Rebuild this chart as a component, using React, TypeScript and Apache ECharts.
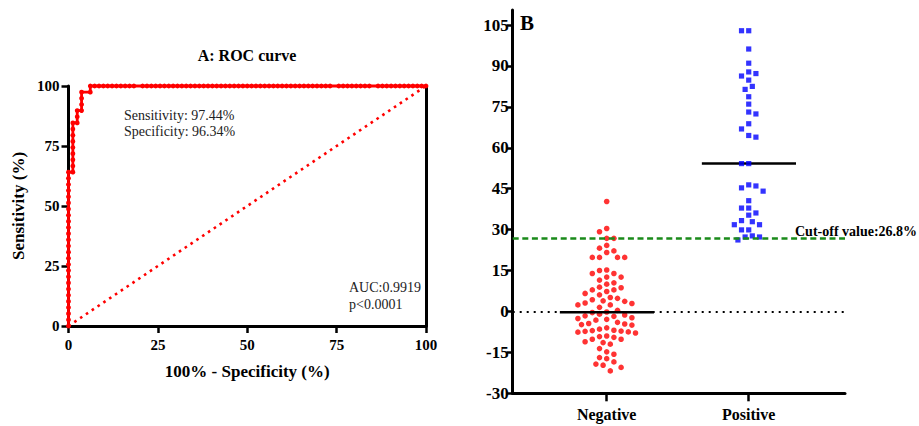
import React, { useEffect, useRef } from "react";
import * as echarts from "echarts";

// ---------- Panel A: ROC curve (counts of false positives out of 82 negatives, true positives out of 39 positives)
const NEG_TOTAL = 82;
const POS_TOTAL = 39;
const rocFP = [
  0, 0, 0, 0, 0, 0, 0, 0, 0, 0, 0, 0, 0, 0, 0, 0, 0, 0, 0, 0, 0, 0, 0, 0, 0, 0,
  1, 1, 1, 1, 1, 1, 1, 1, 1,
  2, 2, 2,
  3, 3, 3, 3,
  5, 5,
  6, 7, 8, 9, 10, 11, 12, 13, 14, 15,
  17, 18, 19, 20, 21, 22, 23, 24, 25, 26, 27, 28, 29, 30, 31, 32, 33, 34, 35, 36, 37, 38,
  39, 40, 41, 42, 43, 44, 45, 46, 47, 48, 49, 50, 51, 52, 53, 54, 55, 56, 57, 58, 59, 60,
  62, 63, 64, 65, 66, 67, 68, 69,
  71, 72, 73, 74, 75, 76, 77, 78, 79, 80, 81, 82,
];
const rocTP = [
  0, 1, 2, 3, 4, 5, 6, 7, 8, 9, 10, 11, 12, 13, 14, 15, 16, 17, 18, 19, 20, 21, 22, 23, 24, 25,
  25, 26, 27, 28, 29, 30, 31, 32, 33,
  33, 34, 35,
  35, 36, 37, 38,
  38, 39,
  39, 39, 39, 39, 39, 39, 39, 39, 39, 39,
  39, 39, 39, 39, 39, 39, 39, 39, 39, 39, 39, 39, 39, 39, 39, 39, 39, 39, 39, 39, 39, 39,
  39, 39, 39, 39, 39, 39, 39, 39, 39, 39, 39, 39, 39, 39, 39, 39, 39, 39, 39, 39, 39, 39,
  39, 39, 39, 39, 39, 39, 39, 39,
  39, 39, 39, 39, 39, 39, 39, 39, 39, 39, 39, 39,
];
const rocTicks = [0, 25, 50, 75, 100];

// ---------- Panel B: scatter dot plot
const categories = ["Negative", "Positive"];
const negativeValues = [
  40.3, 30.4, 29.2, 26.8, 26.8, 24.2, 23.2, 22.2, 21.6, 19.8, 19.8, 19.8, 19.8,
  15.0, 15.2, 13.9, 13.9, 12.6, 12.6, 11.5, 10.0, 10.5, 8.7, 8.9, 7.9, 7.9, 7.3,
  6.1, 6.6, 5.1, 4.3, 4.8, 3.7, 3.9, 2.9, 3.1, 2.4, 2.4,
  1.5, 0.4, -0.2, -0.4,
  -1.0, -1.3, -1.6, -1.8, -2.3, -2.6, -2.9, -3.2,
  -4.0, -4.4, -4.6, -5.0, -4.8,
  -6.0, -6.5, -6.9, -7.2, -7.5, -7.0, -7.9, -7.6, -7.3,
  -9.0, -9.2, -9.5, -10.2, -10.2, -11.1, -11.4, -12.0,
  -13.6, -14.8, -15.7, -16.9, -17.3, -18.5, -19.3, -19.7, -20.5, -21.8,
];
const positiveValues = [
  102.9, 102.9, 96.2, 91.0, 87.2, 86.3, 87.8, 84.8, 82.5, 81.4, 78.7, 76.0,
  73.1, 72.4, 68.8, 66.9, 64.5, 63.9,
  54.2, 54.2,
  46.4, 45.3, 44.1, 46.0, 40.6, 37.9, 37.9, 35.3, 36.1, 31.8, 32.9, 33.3, 31.8,
  29.9, 29.9, 27.3, 26.2, 27.3, 27.7,
];
const cutOff = 26.8;
const bTicks = [-30, -15, 0, 15, 30, 45, 60, 75, 90, 105];

// ---------- layout constants
const W = 919;
const H = 426;
const FONT = "'Liberation Serif', 'Times New Roman', serif";
const B_LEFT = 512.7;
const B_RIGHT = 845;
const B_TOP = 10;
const B_BOTTOM = 393.3;
const B_YMIN = -30;
const B_YMAX = 110.5;
const B_XMIN = -0.662;
const B_XMAX = 1.678;

function median(v: number[]): number {
  const s = [...v].sort((a, b) => a - b);
  const n = s.length;
  return n % 2 ? s[(n - 1) / 2] : (s[n / 2 - 1] + s[n / 2]) / 2;
}

// beeswarm layout: returns horizontal offsets in pixels
function swarm(values: number[], pxPerUnit: number, step: number, minDist: number): number[] {
  const order = values.map((_, i) => i).sort((a, b) => values[b] - values[a]);
  const placed: { x: number; y: number }[] = [];
  const out = new Array(values.length).fill(0);
  let flip = false;
  for (const i of order) {
    const y = values[i] * pxPerUnit;
    for (let k = 0; k < 200; k++) {
      const cands = k === 0 ? [0] : flip ? [k * step, -k * step] : [-k * step, k * step];
      let found: number | null = null;
      for (const c of cands) {
        if (placed.every((p) => Math.hypot(p.x - c, p.y - y) >= minDist)) {
          found = c;
          break;
        }
      }
      if (found !== null) {
        out[i] = found;
        placed.push({ x: found, y });
        if (found !== 0) flip = !flip;
        break;
      }
    }
  }
  return out;
}

export default function App() {
  const ref = useRef<HTMLDivElement>(null);
  useEffect(() => {
    if (!ref.current) return;
    const chart = echarts.init(ref.current, undefined, { renderer: "svg" });

    const rocData = rocFP.map((fp, i) => [(fp / NEG_TOTAL) * 100, (rocTP[i] / POS_TOTAL) * 100]);

    const yPx = (B_BOTTOM - B_TOP) / (B_YMAX - B_YMIN);
    const xPx = (B_RIGHT - B_LEFT) / (B_XMAX - B_XMIN);
    const negOff = swarm(negativeValues, yPx, 3.6, 6.8);
    const posOff = swarm(positiveValues, yPx, 3.6, 6.8);
    const negData = negativeValues.map((v, i) => [0 + negOff[i] / xPx, v]);
    const posData = positiveValues.map((v, i) => [1 + posOff[i] / xPx, v]);
    const negMed = median(negativeValues);
    const posMed = median(positiveValues);

    const boldLabel = (size: number) => ({
      color: "#000",
      fontFamily: FONT,
      fontWeight: "bold" as const,
      fontSize: size,
    });

    chart.setOption({
      animation: false,
      grid: [
        { left: 68.5, right: W - 426, top: 86, bottom: H - 326 },
        { left: B_LEFT, right: W - B_RIGHT, top: B_TOP, bottom: H - B_BOTTOM },
      ],
      xAxis: [
        {
          gridIndex: 0,
          type: "value",
          min: 0,
          max: 100,
          interval: 25,
          name: "100% - Specificity (%)",
          nameLocation: "middle",
          nameGap: 37,
          nameTextStyle: boldLabel(17),
          axisLine: { show: true, onZero: false, lineStyle: { color: "#000", width: 3 } },
          axisTick: { show: true, length: 7, lineStyle: { color: "#000", width: 2.5 } },
          axisLabel: { ...boldLabel(15), margin: 11, customValues: rocTicks },
          splitLine: { show: false },
        },
        {
          gridIndex: 1,
          type: "value",
          min: B_XMIN,
          max: B_XMAX,
          axisLine: { show: true, onZero: false, lineStyle: { color: "#000", width: 3 } },
          axisTick: { show: true, length: 8, customValues: [0, 1], lineStyle: { color: "#000", width: 2.5 } },
          axisLabel: {
            ...boldLabel(16),
            margin: 13,
            customValues: [0, 1],
            formatter: (v: number) => categories[Math.round(v)] ?? "",
          },
          splitLine: { show: false },
        },
      ],
      yAxis: [
        {
          gridIndex: 0,
          type: "value",
          min: 0,
          max: 100,
          interval: 25,
          name: "Sensitivity (%)",
          nameLocation: "middle",
          nameGap: 42,
          nameTextStyle: boldLabel(17),
          axisLine: { show: true, onZero: false, lineStyle: { color: "#000", width: 3 } },
          axisTick: { show: true, length: 7, lineStyle: { color: "#000", width: 2.5 } },
          axisLabel: { ...boldLabel(15), margin: 9, customValues: rocTicks },
          splitLine: { show: false },
        },
        {
          gridIndex: 0,
          type: "value",
          position: "right",
          min: 0,
          max: 100,
          axisLine: { show: true, onZero: false, lineStyle: { color: "#000", width: 3 } },
          axisTick: { show: false },
          axisLabel: { show: false },
          splitLine: { show: false },
        },
        {
          gridIndex: 1,
          type: "value",
          min: B_YMIN,
          max: B_YMAX,
          axisLine: { show: true, onZero: false, lineStyle: { color: "#000", width: 3 } },
          axisTick: { show: true, length: 6, customValues: bTicks, lineStyle: { color: "#000", width: 2.5 } },
          axisLabel: { ...boldLabel(17), margin: 4, customValues: bTicks },
          splitLine: { show: false },
        },
      ],
      series: [
        {
          type: "line",
          xAxisIndex: 0,
          yAxisIndex: 0,
          data: [
            [0, 0],
            [100, 100],
          ],
          symbol: "none",
          lineStyle: { color: "#ff0000", width: 2.6, type: [2.6, 4.4] },
          silent: true,
          z: 2,
        },
        {
          type: "line",
          xAxisIndex: 0,
          yAxisIndex: 0,
          data: rocData,
          symbol: "circle",
          symbolSize: 4.8,
          clip: false,
          lineStyle: { color: "#ff0000", width: 2.8 },
          itemStyle: { color: "#ff0000" },
          z: 3,
        },
        {
          type: "scatter",
          xAxisIndex: 1,
          yAxisIndex: 2,
          data: negData,
          symbol: "circle",
          symbolSize: 5.6,
          itemStyle: { color: "#ff0000" },
          z: 3,
          markLine: {
            silent: true,
            symbol: "none",
            label: { show: false },
            data: [
              { yAxis: 0, lineStyle: { color: "#000", width: 2, type: [2, 5] } },
              { yAxis: cutOff, lineStyle: { color: "#1a8a1a", width: 2.5, type: [6, 3.6] } },
            ],
          },
        },
        {
          type: "scatter",
          xAxisIndex: 1,
          yAxisIndex: 2,
          data: posData,
          symbol: "rect",
          symbolSize: 5.2,
          itemStyle: { color: "#0000ff" },
          z: 3,
        },
        {
          type: "line",
          xAxisIndex: 1,
          yAxisIndex: 2,
          data: [
            [-0.33, negMed],
            [0.333, negMed],
          ],
          symbol: "none",
          lineStyle: { color: "#000", width: 2.5 },
          z: 4,
        },
        {
          type: "line",
          xAxisIndex: 1,
          yAxisIndex: 2,
          data: [
            [1 - 0.33, posMed],
            [1.333, posMed],
          ],
          symbol: "none",
          lineStyle: { color: "#000", width: 2.5 },
          z: 2,
        },
      ],
      graphic: [
        {
          type: "text",
          x: 247,
          y: 55,
          style: { text: "A: ROC curve", ...boldLabel(16), fill: "#000", align: "center", verticalAlign: "middle" },
        },
        {
          type: "text",
          x: 124,
          y: 115,
          style: { text: "Sensitivity: 97.44%", font: `14px ${FONT}`, fill: "#222", verticalAlign: "middle" },
        },
        {
          type: "text",
          x: 124,
          y: 131,
          style: { text: "Specificity: 96.34%", font: `14px ${FONT}`, fill: "#222", verticalAlign: "middle" },
        },
        {
          type: "text",
          x: 349,
          y: 287,
          style: { text: "AUC:0.9919", font: `14px ${FONT}`, fill: "#222", verticalAlign: "middle" },
        },
        {
          type: "text",
          x: 349,
          y: 304,
          style: { text: "p<0.0001", font: `14px ${FONT}`, fill: "#222", verticalAlign: "middle" },
        },
        {
          type: "text",
          x: 520,
          y: 23,
          style: { text: "B", font: `bold 21px ${FONT}`, fill: "#000", verticalAlign: "middle" },
        },
        {
          type: "text",
          x: 795,
          y: 231,
          style: { text: "Cut-off value:26.8%", font: `bold 14px ${FONT}`, fill: "#000", verticalAlign: "middle" },
        },
      ],
    });
    return () => chart.dispose();
  }, []);
  return <div ref={ref} style={{ width: W, height: H, position: "absolute", left: 0, top: 0 }} />;
}
